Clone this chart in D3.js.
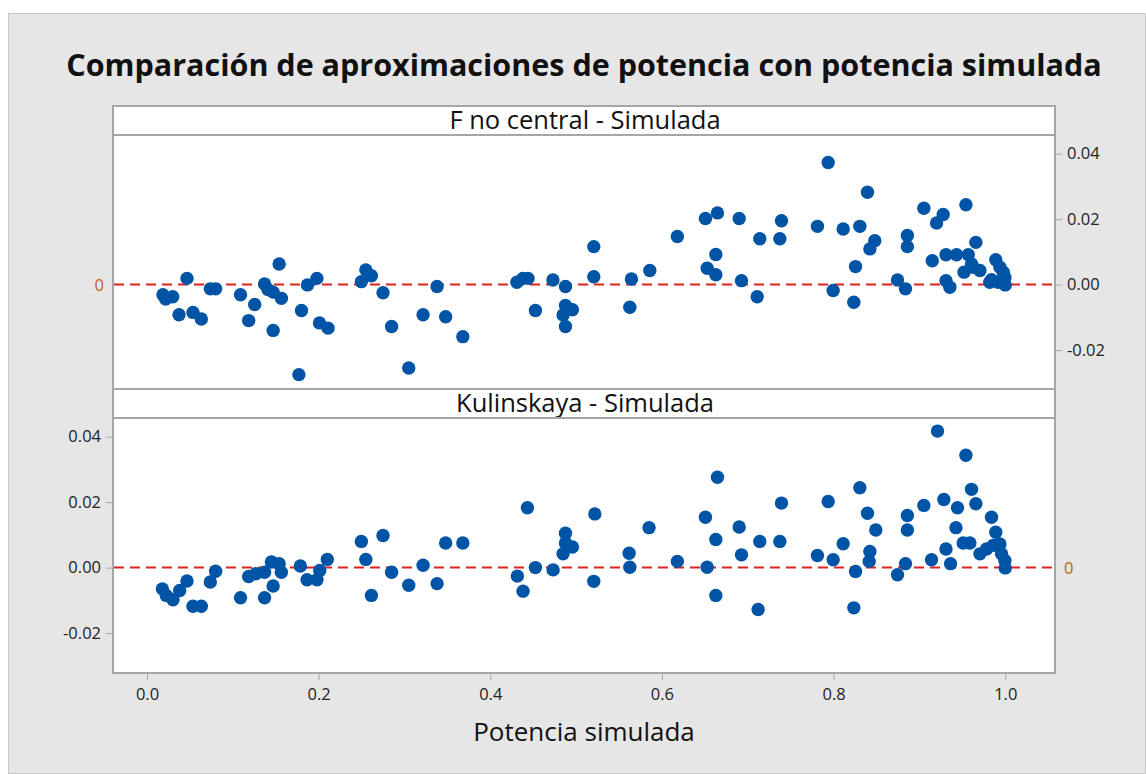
<!DOCTYPE html>
<html>
<head>
  <meta charset='utf-8' />
  <title>Comparación de aproximaciones de potencia</title>
  <style>
    body { margin: 0; background: #fff; }
    svg text { font-family: 'Open Sans', 'Noto Sans', sans-serif; }
  </style>
</head>
<body>
  <div id="wrapper"></div>

<script src='https://d3js.org/d3.v7.min.js' charset='utf-8'></script>
<script>
  // x = potencia simulada, y = diferencia (aproximación - simulada)
  const panelTitles = ['F no central - Simulada', 'Kulinskaya - Simulada']
  const xTicks = [0.0, 0.2, 0.4, 0.6, 0.8, 1.0]
  const yTicks = [-0.02, 0.00, 0.02, 0.04]

  const fncX = [0.0186, 0.0218, 0.030, 0.0466, 0.0373, 0.0536, 0.0633, 0.0738, 0.080, 0.109,
    0.1255, 0.1185, 0.137, 0.141, 0.147, 0.1566, 0.147, 0.154, 0.180, 0.177,
    0.187, 0.198, 0.201, 0.211, 0.2498, 0.255, 0.2615, 0.275, 0.285, 0.305,
    0.3217, 0.338, 0.348, 0.368, 0.431, 0.438, 0.444, 0.4526, 0.473, 0.4876,
    0.4876, 0.4848, 0.4957, 0.4876, 0.5206, 0.5206, 0.5626, 0.5645, 0.5859, 0.618,
    0.6507, 0.6647, 0.6628, 0.6527, 0.6628, 0.690, 0.6927, 0.711, 0.714, 0.7393,
    0.7374, 0.7812, 0.7937, 0.7995, 0.8112, 0.8306, 0.8395, 0.8256, 0.8236, 0.8423,
    0.848, 0.886, 0.886, 0.8745, 0.8838, 0.9052, 0.920, 0.9277, 0.915, 0.9542,
    0.931, 0.9433, 0.957, 0.9658, 0.931, 0.9355, 0.952, 0.9607, 0.9705, 0.989,
    0.9938, 0.984, 0.9918, 0.9996, 1.000, 0.982, 0.9977, 0.9627]
  const fncY = [-0.0031, -0.0044, -0.0037, 0.0019, -0.0092, -0.0085, -0.0105, -0.0013, -0.0013, -0.0031,
    -0.0061, -0.0110, 0.0002, -0.0015, -0.0023, -0.0042, -0.0140, 0.0063, -0.0079, -0.0275,
    -0.0001, 0.0019, -0.0117, -0.0133, 0.0009, 0.0045, 0.0027, -0.0025, -0.0128, -0.0255,
    -0.0092, -0.0006, -0.0098, -0.0159, 0.0007, 0.0019, 0.0019, -0.0079, 0.0014, -0.0006,
    -0.0064, -0.0093, -0.0077, -0.0128, 0.0116, 0.0024, -0.0069, 0.0017, 0.0043, 0.0147,
    0.0202, 0.0219, 0.0092, 0.0050, 0.0030, 0.0202, 0.0012, -0.0037, 0.0140, 0.0195,
    0.0140, 0.0178, 0.0373, -0.0018, 0.0170, 0.0178, 0.0282, 0.0055, -0.0054, 0.0109,
    0.0134, 0.0150, 0.0116, 0.0014, -0.0013, 0.0233, 0.0188, 0.0214, 0.0073, 0.0244,
    0.0091, 0.0091, 0.0091, 0.0129, 0.0012, -0.0008, 0.0038, 0.0063, 0.0043, 0.0076,
    0.0053, 0.0015, 0.0007, 0.0022, -0.0001, 0.0007, 0.0038, 0.0053]

  const kulX = [0.0179, 0.0225, 0.0303, 0.0381, 0.0466, 0.0536, 0.0633, 0.0738, 0.080, 0.109,
    0.1185, 0.1267, 0.137, 0.137, 0.145, 0.154, 0.1566, 0.147, 0.1787, 0.1865,
    0.1981, 0.2013, 0.2101, 0.2498, 0.255, 0.2615, 0.275, 0.285, 0.305, 0.3217,
    0.338, 0.348, 0.368, 0.4316, 0.4382, 0.4433, 0.4526, 0.4732, 0.4876, 0.4876,
    0.4957, 0.4848, 0.5206, 0.5218, 0.5618, 0.5626, 0.585, 0.618, 0.6507, 0.6647,
    0.6628, 0.6527, 0.6628, 0.690, 0.6927, 0.7121, 0.714, 0.7393, 0.7374, 0.7812,
    0.7937, 0.7995, 0.8112, 0.8306, 0.8236, 0.8256, 0.8395, 0.8423, 0.8415, 0.8492,
    0.8745, 0.8838, 0.886, 0.886, 0.9052, 0.9211, 0.9141, 0.9285, 0.931, 0.9363,
    0.9426, 0.9444, 0.9542, 0.951, 0.9588, 0.9607, 0.9658, 0.9705, 0.984, 0.989,
    0.9782, 0.986, 0.9957, 0.9996, 1.000, 0.9938]
  const kulY = [-0.0065, -0.0085, -0.0098, -0.0070, -0.0041, -0.0118, -0.0118, -0.0044, -0.0011, -0.0092,
    -0.0027, -0.0019, -0.0014, -0.0092, 0.0017, 0.0012, -0.0014, -0.0056, 0.0005, -0.0037,
    -0.0037, -0.0009, 0.0025, 0.0080, 0.0025, -0.0085, 0.0098, -0.0014, -0.0054, 0.0007,
    -0.0049, 0.0075, 0.0075, -0.0026, -0.0072, 0.0183, 0.0000, -0.0007, 0.0105, 0.0075,
    0.0063, 0.0042, -0.0042, 0.0164, 0.0044, 0.0001, 0.0122, 0.0019, 0.0154, 0.0276,
    0.0086, 0.0001, -0.0085, 0.0124, 0.0039, -0.0128, 0.0080, 0.0197, 0.0080, 0.0037,
    0.0202, 0.0024, 0.0073, 0.0244, -0.0123, -0.0012, 0.0166, 0.0049, 0.0019, 0.0115,
    -0.0022, 0.0012, 0.0159, 0.0115, 0.0190, 0.0417, 0.0024, 0.0208, 0.0057, 0.0012,
    0.0122, 0.0183, 0.0343, 0.0075, 0.0075, 0.0239, 0.0195, 0.0042, 0.0154, 0.0108,
    0.0057, 0.0068, 0.0042, 0.0022, -0.0001, 0.0072]

  const panels = [
    { title: panelTitles[0], xs: fncX, ys: fncY, axisSide: 'right', zeroSide: 'left' },
    { title: panelTitles[1], xs: kulX, ys: kulY, axisSide: 'left', zeroSide: 'right' }
  ]

  const width = 1146, height = 774
  const plotLeft = 113, plotRight = 1055
  const stripH = 29, plotH = 255
  const panelTops = [106, 389]

  const frame = '#a6a6a6'
  const dotColor = '#0054a6'
  const tickFmt = d => d3.format('.2f')(d).replace('\u2212', '-')

  const svg = d3.select('#wrapper')
    .append('svg')
      .attr('width', width)
      .attr('height', height)

  svg.append('rect')
    .attr('x', 8.5).attr('y', 13.5)
    .attr('width', width - 9).attr('height', height - 14)
    .attr('fill', '#e6e6e6')
    .attr('stroke', '#c8c8c8')

  svg.append('text')
    .attr('x', 584).attr('y', 76)
    .attr('text-anchor', 'middle')
    .attr('font-size', 30.5)
    .attr('font-weight', 'bold')
    .attr('fill', '#111')
    .text('Comparación de aproximaciones de potencia con potencia simulada')

  const x = d3.scaleLinear()
    .domain([-0.0396, 1.058])
    .range([plotLeft, plotRight])

  panels.forEach((p, i) => {
    const top = panelTops[i]
    const pTop = top + stripH
    const pBottom = pTop + plotH

    const y = d3.scaleLinear()
      .domain([-0.0322, 0.0457])
      .range([pBottom, pTop])

    const g = svg.append('g')

    // strip
    g.append('rect')
      .attr('x', plotLeft).attr('y', top)
      .attr('width', plotRight - plotLeft).attr('height', stripH)
      .attr('fill', '#fff')
      .attr('stroke', frame).attr('stroke-width', 2)
    g.append('text')
      .attr('x', (plotLeft + plotRight) / 2 + 1)
      .attr('y', top + 23)
      .attr('text-anchor', 'middle')
      .attr('font-size', 25.5)
      .attr('fill', '#111')
      .text(p.title)

    // plot area
    g.append('rect')
      .attr('x', plotLeft).attr('y', pTop)
      .attr('width', plotRight - plotLeft).attr('height', plotH)
      .attr('fill', '#fff')
      .attr('stroke', frame).attr('stroke-width', 2)

    // y axis
    const yAxis = (p.axisSide === 'right' ? d3.axisRight(y) : d3.axisLeft(y))
      .tickValues(yTicks)
      .tickFormat(tickFmt)
      .tickSize(6)
      .tickPadding(5)
    const ya = g.append('g')
      .attr('transform', `translate(${p.axisSide === 'right' ? plotRight + 1 : plotLeft - 1},0)`)
      .call(yAxis)
    ya.select('.domain').remove()
    ya.selectAll('line').attr('stroke', frame)
    ya.selectAll('text')
      .attr('font-size', 16.5)
      .attr('fill', '#222')
      .style('font-family', "'Open Sans', sans-serif")

    // zero label on the other side
    g.append('text')
      .attr('x', p.zeroSide === 'left' ? plotLeft - 9 : plotRight + 9)
      .attr('y', y(0) + 6)
      .attr('text-anchor', p.zeroSide === 'left' ? 'end' : 'start')
      .attr('font-size', 16.5)
      .attr('fill', '#b3651e')
      .text('0')

    // reference line
    g.append('line')
      .attr('x1', plotLeft + 1).attr('x2', plotRight - 1)
      .attr('y1', y(0)).attr('y2', y(0))
      .attr('stroke', '#e0201b')
      .attr('stroke-width', 2)
      .attr('stroke-dasharray', '10,6')

    const pts = p.xs.map((v, k) => ({ x: v, y: p.ys[k] }))
    g.selectAll('circle')
      .data(pts)
      .enter()
      .append('circle')
        .attr('cx', d => x(d.x))
        .attr('cy', d => y(d.y))
        .attr('r', 6.7)
        .attr('fill', dotColor)

    if (i === panels.length - 1) {
      const xa = g.append('g')
        .attr('transform', `translate(0,${pBottom + 1})`)
        .call(d3.axisBottom(x).tickValues(xTicks).tickFormat(d3.format('.1f')).tickSize(6).tickPadding(8))
      xa.select('.domain').remove()
      xa.selectAll('line').attr('stroke', frame)
      xa.selectAll('text')
        .attr('font-size', 16.5)
        .attr('fill', '#222')
        .style('font-family', "'Open Sans', sans-serif")
    }
  })

  svg.append('text')
    .attr('x', 584).attr('y', 741)
    .attr('text-anchor', 'middle')
    .attr('font-size', 26)
    .attr('fill', '#111')
    .text('Potencia simulada')
</script>
</body>
</html>
